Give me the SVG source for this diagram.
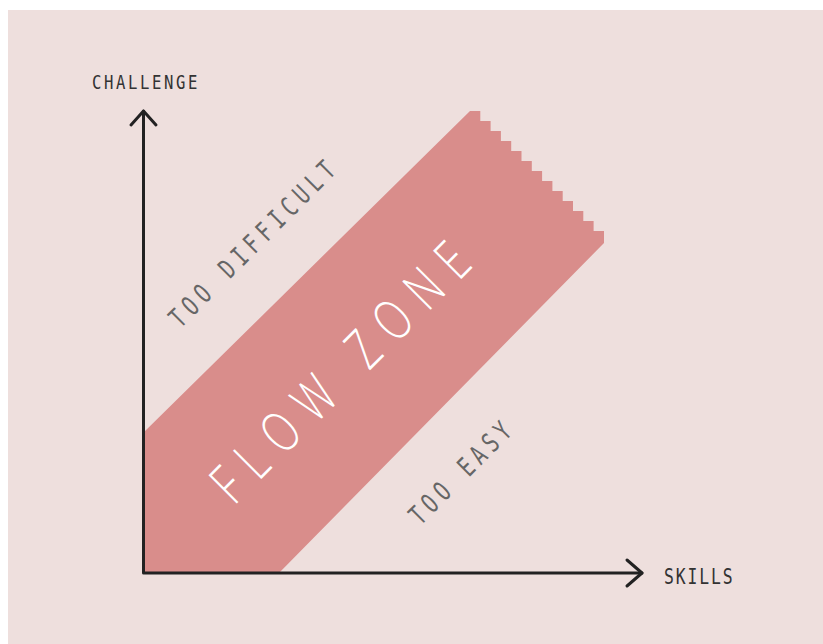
<svg xmlns="http://www.w3.org/2000/svg" width="823" height="644" viewBox="0 0 823 644">
  <style>
    .bg { fill: #eedfdd; }
    .band { fill: #d98d8b; }
    .axis { fill: none; stroke: #222222; stroke-width: 3; stroke-linecap: round; stroke-linejoin: round; }
    .lbl { font-family: "DejaVu Sans Mono", "Liberation Mono", monospace; fill: #333333; }
    .zone { font-family: "DejaVu Sans Mono", "Liberation Mono", monospace; fill: #666666; }
    .flow { font-family: "Open Sans", "DejaVu Sans", sans-serif; font-weight: 300; fill: #ffffff; }
  </style>
  <rect x="0" y="0" width="823" height="644" fill="#ffffff"/>
  <rect class="bg" x="8" y="10" width="815" height="634"/>

  <g id="flow-zone">
    <polygon class="band" points="143,433 470,111 480.3,111 480.3,121 490.6,121 490.6,131 500.9,131 500.9,141 511.2,141 511.2,151 521.5,151 521.5,161 531.8,161 531.8,171 542.1,171 542.1,181 552.4,181 552.4,191 562.7,191 562.7,201 573,201 573,211 583.3,211 583.3,221 593.6,221 593.6,231 604,231 604,243 279,573 143,573"/>
    <text class="flow" transform="translate(340,372) rotate(-45) scale(0.72,1)" x="0" y="20" font-size="56" text-anchor="middle" textLength="472" lengthAdjust="spacing">FLOW ZONE</text>
  </g>

  <g id="too-difficult">
    <text class="zone" transform="translate(252,244) rotate(-45) scale(0.72,1)" x="0" y="9.5" font-size="27" text-anchor="middle" textLength="308" lengthAdjust="spacing">TOO DIFFICULT</text>
  </g>

  <g id="too-easy">
    <text class="zone" transform="translate(460,473) rotate(-45) scale(0.72,1)" x="0" y="9.5" font-size="27" text-anchor="middle" textLength="183" lengthAdjust="spacing">TOO EASY</text>
  </g>

  <g id="challenge-label">
    <text class="lbl" transform="translate(92,89) scale(0.78,1)" x="0" y="0" font-size="20" textLength="135" lengthAdjust="spacing">CHALLENGE</text>
  </g>

  <g id="skills-label">
    <text class="lbl" transform="translate(664,584) scale(0.78,1)" x="0" y="0" font-size="21" textLength="88" lengthAdjust="spacing">SKILLS</text>
  </g>

  <g id="connectors">
    <path class="axis" d="M143.5,111 L143.5,573 L642,573"/>
    <path class="axis" d="M131,125 L143.5,111 L156,125"/>
    <path class="axis" d="M627,560 L642,573 L627,586"/>
  </g>
</svg>
